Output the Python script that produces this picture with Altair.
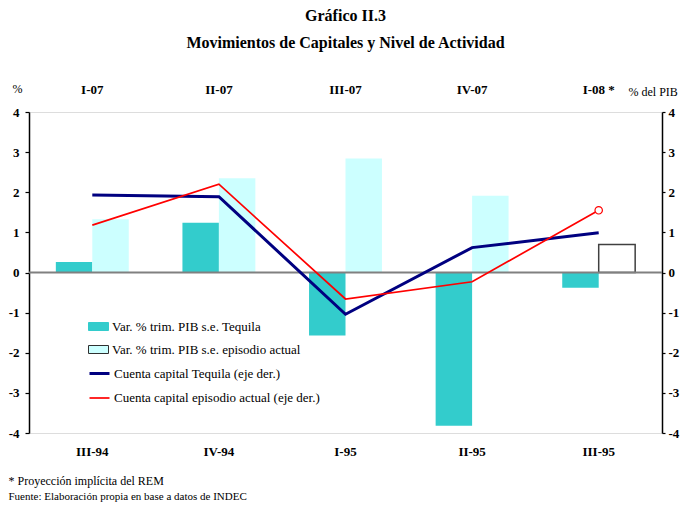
import altair as alt
import pandas as pd

cats_bottom = ["III-94", "IV-94", "I-95", "II-95", "III-95"]
cats_top = ["I-07", "II-07", "III-07", "IV-07", "I-08 *"]

pib_tequila = [0.26, 1.24, -1.57, -3.82, -0.38]
pib_actual = [1.33, 2.35, 2.84, 1.91, 0.70]
cc_tequila = [1.93, 1.89, -1.04, 0.62, 0.99]
cc_actual = [1.18, 2.20, -0.66, -0.23, 1.55]

s_bar1 = "Var. % trim. PIB s.e. Tequila"
s_bar2 = "Var. % trim. PIB s.e. episodio actual"
s_line1 = "Cuenta capital Tequila (eje der.)"
s_line2 = "Cuenta capital episodio actual (eje der.)"

FONT = "Liberation Serif"

bar_rows = []
for i, c in enumerate(cats_bottom):
    bar_rows.append({"cat": c, "serie": s_bar1, "value": pib_tequila[i], "proj": False})
    bar_rows.append({"cat": c, "serie": s_bar2, "value": pib_actual[i], "proj": i == len(cats_bottom) - 1})
bars_df = pd.DataFrame(bar_rows)

line_rows = []
for i, c in enumerate(cats_bottom):
    line_rows.append({"cat": c, "serie": s_line1, "value": cc_tequila[i], "idx": i})
    line_rows.append({"cat": c, "serie": s_line2, "value": cc_actual[i], "idx": i})
lines_df = pd.DataFrame(line_rows)

last_df = pd.DataFrame({"cat": [cats_bottom[-1]], "value": [cc_actual[-1]]})
zero_df = pd.DataFrame({"z": [0]})

xscale = alt.Scale(domain=cats_bottom, paddingInner=0.424, paddingOuter=0.212)
yscale = alt.Scale(domain=[-4, 4], nice=False, zero=False)

top_expr = "[" + ",".join("'%s'" % t for t in cats_top) + "][indexof([" + ",".join("'%s'" % c for c in cats_bottom) + "], datum.value)]"
num_expr = "'' + datum.value"

bars = alt.Chart(bars_df).mark_bar(stroke="#404040").encode(
    x=alt.X("cat:N", sort=cats_bottom, scale=xscale,
            axis=alt.Axis(orient="bottom", domain=False, ticks=False, labelAngle=0,
                          labelFont=FONT, labelFontSize=13, labelFontWeight="bold",
                          labelColor="black", labelPadding=12,
                          title="* Proyección implícita del REM", titleFont=FONT,
                          titleFontSize=12, titleFontWeight="normal", titleColor="black",
                          titleAlign="left", titleBaseline="middle", titleX=-21, titleY=47)),
    xOffset=alt.XOffset("serie:N", sort=[s_bar1, s_bar2],
                        scale=alt.Scale(domain=[s_bar1, s_bar2], paddingInner=0, paddingOuter=0)),
    y=alt.Y("value:Q", scale=yscale,
            axis=alt.Axis(orient="left", values=list(range(-4, 5)), grid=False,
                          domainColor="black", domainWidth=1.5, tickColor="black",
                          tickSize=4, tickWidth=1.2, labelFont=FONT, labelFontSize=13,
                          labelFontWeight="bold", labelColor="black", labelPadding=6,
                          labelExpr=num_expr,
                          title="%", titleAngle=0, titleFont=FONT, titleFontSize=12,
                          titleFontWeight="normal", titleColor="black", titleAlign="center",
                          titleBaseline="middle", titleX=-12, titleY=-24)),
    fill=alt.condition("datum.proj", alt.value("white"),
                       alt.Fill("serie:N",
                                scale=alt.Scale(domain=[s_bar1, s_bar2], range=["#33CCCC", "#CCFFFF"]),
                                legend=alt.Legend(title=None, orient="none", legendX=59, legendY=204,
                                                  symbolType="M-1,-0.4H1V0.4H-1Z", symbolSize=400,
                                                  symbolStrokeColor={"expr": "datum.value == '%s' ? '#303030' : '#33CCCC'" % s_bar2},
                                                  symbolStrokeWidth=1, symbolOpacity=1,
                                                  labelFont=FONT, labelFontSize=13, labelColor="black",
                                                  labelOffset=3, rowPadding=5, padding=0,
                                                  labelLimit=400))),
    strokeWidth=alt.condition("datum.proj", alt.value(1.5), alt.value(0)),
)

zero = alt.Chart(zero_df).mark_rule(color="#808080", strokeWidth=2).encode(
    y=alt.Y("z:Q", scale=yscale, axis=None)
)

lines = alt.Chart(lines_df).mark_line().encode(
    x=alt.X("cat:N", sort=cats_bottom, scale=xscale,
            axis=alt.Axis(orient="top", domain=False, ticks=False, labelAngle=0,
                          labelExpr=top_expr, labelFont=FONT, labelFontSize=13,
                          labelFontWeight="bold", labelColor="black", labelPadding=16,
                          title="Fuente: Elaboración propia en base a datos de INDEC",
                          titleFont=FONT, titleFontSize=11, titleFontWeight="normal",
                          titleColor="black", titleAlign="left", titleBaseline="middle",
                          titleX=-21, titleY=384)),
    y=alt.Y("value:Q", scale=yscale,
            axis=alt.Axis(orient="right", values=list(range(-4, 5)), grid=False,
                          domainColor="black", domainWidth=1.5, tickColor="black",
                          tickSize=3, tickWidth=1.2, labelFont=FONT, labelFontSize=13,
                          labelFontWeight="bold", labelColor="black", labelPadding=3,
                          labelExpr=num_expr,
                          title="% del PIB", titleAngle=0, titleFont=FONT, titleFontSize=12,
                          titleFontWeight="normal", titleColor="black", titleAlign="left",
                          titleBaseline="middle", titleX=-34, titleY=-21)),
    stroke=alt.Stroke("serie:N",
                      scale=alt.Scale(domain=[s_line1, s_line2], range=["#000080", "#FF0000"]),
                      legend=alt.Legend(title=None, orient="none", legendX=59, legendY=250,
                                        symbolType="stroke", symbolSize=400,
                                        symbolStrokeWidth={"expr": "datum.value == '%s' ? 2.5 : 1.5" % s_line1},
                                        labelFont=FONT, labelFontSize=13, labelColor="black",
                                        labelOffset=3, rowPadding=6, padding=0, labelLimit=400)),
    strokeWidth=alt.StrokeWidth("serie:N", scale=alt.Scale(domain=[s_line1, s_line2], range=[3, 1.7]),
                                legend=None),
    order=alt.Order("idx:Q"),
)

point = alt.Chart(last_df).mark_point(shape="circle", filled=True, fill="white", stroke="#FF0000",
                                      strokeWidth=1.2, size=55, opacity=1).encode(
    x=alt.X("cat:N", sort=cats_bottom, scale=xscale, axis=None),
    y=alt.Y("value:Q", scale=yscale, axis=None),
)

chart = alt.layer(bars, zero, lines, point).resolve_scale(
    y="independent", fill="independent", stroke="independent", strokeWidth="independent"
).resolve_axis(x="independent").properties(
    width=633, height=321,
    autosize=alt.AutoSizeParams(type="none"),
    padding={"left": 21, "top": 104, "right": 18, "bottom": 69},
    title=alt.TitleParams(text="Gráfico II.3",
                          subtitle="Movimientos de Capitales y Nivel de Actividad",
                          font=FONT, fontSize=16, fontWeight="bold", color="black",
                          subtitleFont=FONT, subtitleFontSize=16, subtitleFontWeight="bold",
                          subtitleColor="black", subtitlePadding=11, anchor="middle", offset=31),
).configure_view(stroke=None).configure(background="white")

chart.save("out.html", embed_options={"renderer": "svg", "actions": False})
